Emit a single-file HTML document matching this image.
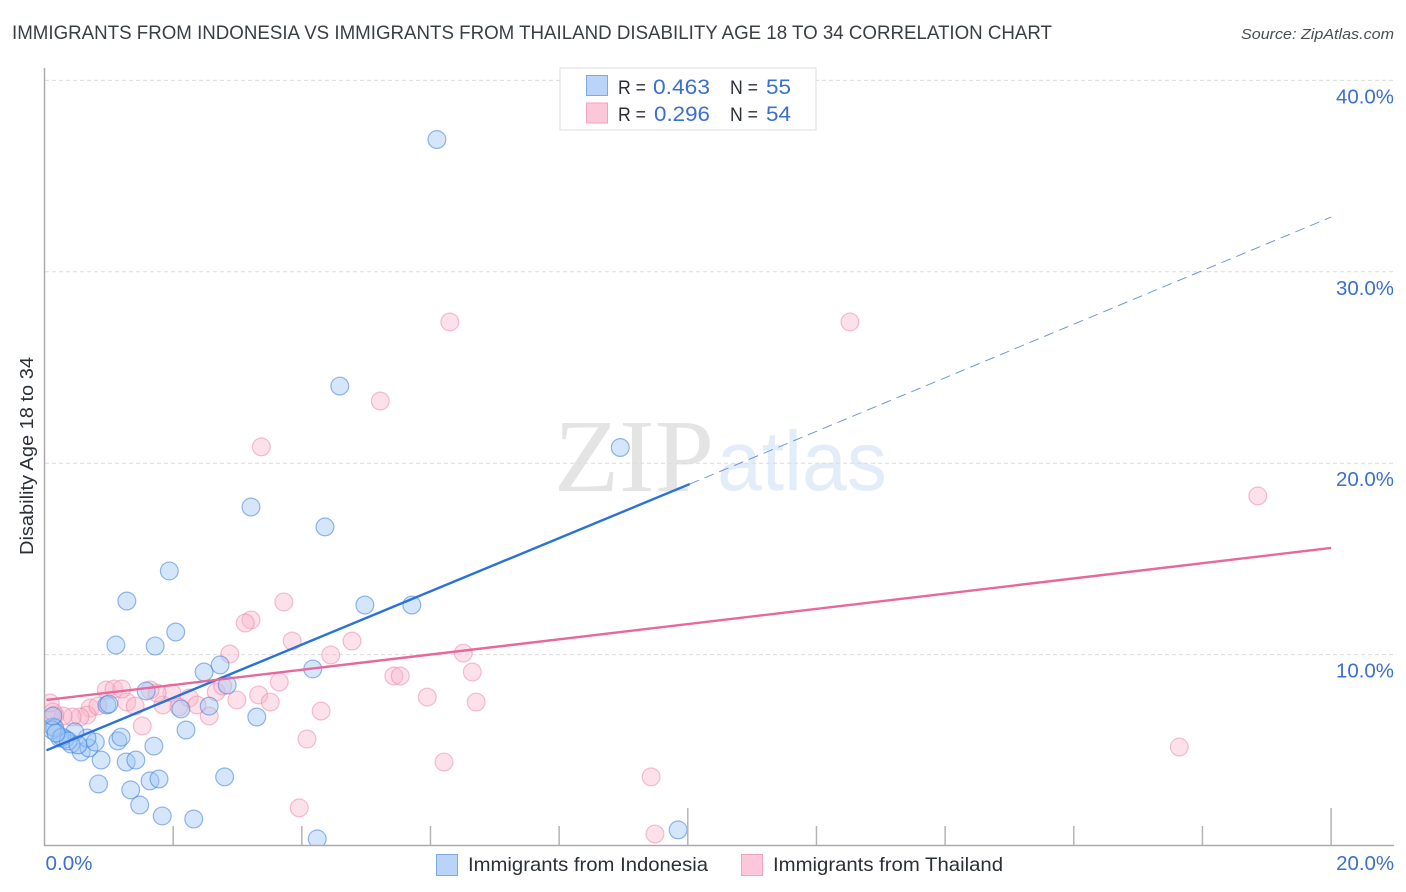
<!DOCTYPE html>
<html lang="en">
<head>
<meta charset="utf-8">
<title>Immigrants from Indonesia vs Immigrants from Thailand Disability Age 18 to 34 Correlation Chart</title>
<style>
html,body{margin:0;padding:0;background:#fff;width:1406px;height:892px;overflow:hidden}
svg{display:block;font-family:"Liberation Sans",sans-serif}
</style>
</head>
<body>
<svg id="chart" xmlns="http://www.w3.org/2000/svg" width="1406" height="892" viewBox="0 0 1406 892">
  <defs>
    <clipPath id="plot-clip"><rect x="45" y="68" width="1350" height="777"/></clipPath>
  </defs>
  <text x="12" y="39" font-size="19.5" fill="#3a3e45" textLength="1040" lengthAdjust="spacingAndGlyphs">IMMIGRANTS FROM INDONESIA VS IMMIGRANTS FROM THAILAND DISABILITY AGE 18 TO 34 CORRELATION CHART</text>
  <text x="1241" y="39" font-size="15" font-style="italic" fill="#4a4e55" textLength="153" lengthAdjust="spacingAndGlyphs">Source: ZipAtlas.com</text>

  <g id="watermark">
    <text x="554" y="491" font-family="'Liberation Serif',serif" font-size="104" fill="#e4e4e4" textLength="160" lengthAdjust="spacingAndGlyphs">ZIP</text>
    <text x="717" y="490" font-size="84" fill="#e3edfa" textLength="170" lengthAdjust="spacingAndGlyphs">atlas</text>
  </g>

  <g id="grid"></g>
  <g id="points-pink" clip-path="url(#plot-clip)"></g>
  <g id="points-blue" clip-path="url(#plot-clip)"></g>
  <g id="trends"></g>
  <g id="axes"></g>
  <g id="tick-labels"></g>

  <text transform="translate(33,456) rotate(-90)" text-anchor="middle" font-size="18.5" fill="#2b2f36" textLength="198" lengthAdjust="spacingAndGlyphs">Disability Age 18 to 34</text>

  <g>
    <rect x="560" y="68" width="256" height="62" fill="#fff" stroke="#dcdcdc" stroke-width="1"/>
    <rect x="586.5" y="75.5" width="21" height="20" fill="#b9d4f8" stroke="#7ea9e4" stroke-width="1"/>
    <rect x="586.5" y="103" width="21" height="20" fill="#fcc8d9" stroke="#f0a3bd" stroke-width="1"/>
    <text x="618" y="94" font-size="19.5" fill="#2b2f36" textLength="28" lengthAdjust="spacingAndGlyphs">R =</text>
    <text x="653" y="94" font-size="21.5" fill="#3a70cf" textLength="57" lengthAdjust="spacingAndGlyphs">0.463</text>
    <text x="730" y="94" font-size="19.5" fill="#2b2f36" textLength="28" lengthAdjust="spacingAndGlyphs">N =</text>
    <text x="766" y="94" font-size="21.5" fill="#3a70cf" textLength="25" lengthAdjust="spacingAndGlyphs">55</text>
    <text x="618" y="121" font-size="19.5" fill="#2b2f36" textLength="28" lengthAdjust="spacingAndGlyphs">R =</text>
    <text x="654" y="121" font-size="21.5" fill="#3a70cf" textLength="56" lengthAdjust="spacingAndGlyphs">0.296</text>
    <text x="730" y="121" font-size="19.5" fill="#2b2f36" textLength="28" lengthAdjust="spacingAndGlyphs">N =</text>
    <text x="766" y="121" font-size="21.5" fill="#3a70cf" textLength="25" lengthAdjust="spacingAndGlyphs">54</text>
  </g>

  <g>
    <rect x="436.5" y="854.5" width="21" height="21" fill="#b9d4f8" stroke="#7ea9e4" stroke-width="1"/>
    <text x="468" y="871" font-size="19.5" fill="#2b2f36" textLength="240" lengthAdjust="spacingAndGlyphs">Immigrants from Indonesia</text>
    <rect x="741.5" y="854.5" width="21" height="21" fill="#fcc8d9" stroke="#f0a3bd" stroke-width="1"/>
    <text x="773" y="871" font-size="19.5" fill="#2b2f36" textLength="230" lengthAdjust="spacingAndGlyphs">Immigrants from Thailand</text>
  </g>
</svg>
<script>
const indonesiaX = [6.10,4.59,8.95,3.21,4.36,1.94,1.28,4.98,5.71,2.04,1.11,1.72,2.48,2.73,4.17,2.84,1.58,0.97,1.00,2.56,2.12,3.30,2.20,1.14,1.19,1.70,0.88,1.27,1.42,0.84,1.34,1.64,1.78,2.80,1.48,1.83,2.32,4.24,9.85,0.57,0.69,0.79,0.66,0.47,0.41,0.32,0.24,0.13,0.16,0.12,0.13,0.27,0.37,0.52,0.18];
const indonesiaY = [36.91,24.03,20.82,17.71,16.67,14.37,12.80,12.59,12.59,11.18,10.50,10.45,9.09,9.46,9.25,8.41,8.10,7.37,7.42,7.31,7.16,6.74,6.06,5.49,5.69,5.22,4.49,4.39,4.49,3.24,2.93,3.40,3.50,3.61,2.14,1.57,1.41,0.37,0.84,4.91,5.12,5.43,5.64,5.96,5.33,5.59,5.64,6.22,6.17,6.06,6.79,5.69,5.49,5.28,5.90];
const thailandX = [6.30,12.52,5.22,3.37,18.86,3.72,3.21,3.12,3.85,4.78,2.88,4.45,6.51,6.65,5.43,5.53,3.65,3.33,3.51,5.95,6.71,2.99,4.30,4.08,6.21,17.64,9.43,3.96,9.49,2.67,2.77,2.56,1.84,1.98,2.25,2.37,2.09,1.75,1.64,1.28,1.41,0.96,1.08,1.20,0.71,0.66,0.83,0.55,0.43,1.52,0.29,0.16,0.09,0.13];
const thailandY = [27.38,27.38,23.25,20.85,18.29,12.75,11.81,11.65,10.71,10.71,10.03,9.98,10.08,9.09,8.88,8.88,8.57,7.89,7.52,7.78,7.52,7.63,7.05,5.59,4.39,5.17,3.61,1.99,0.63,8.05,8.36,6.79,7.37,7.99,7.73,7.37,7.26,7.99,8.15,7.52,7.31,8.15,8.20,8.20,7.21,6.84,7.31,6.74,6.74,6.27,6.79,6.84,7.47,7.00];
const indonesiaTrendX = [0.03,10.03];
const indonesiaTrendY = [5.00,18.91];
const indonesiaForecastX = [10.03,20.00];
const indonesiaForecastY = [18.91,32.86];
const thailandTrendX = [0.03,20.00];
const thailandTrendY = [7.63,15.57];
const xTickValues = [0,2,4,6,8,10,12,14,16,18,20];
const xMajorTicks = [0,10,20];
const xTickLabels = [[0,'0.0%'],[20,'20.0%']];
const yTickValues = [10,20,30,40];
const yTickLabels = ['10.0%','20.0%','30.0%','40.0%'];

const NS = 'http://www.w3.org/2000/svg';
function xScale(v){ return 44.5 + v * 64.33; }
function yScale(v){ return 846 - v * 19.14; }
function make(tag, parent){
  const el = document.createElementNS(NS, tag);
  document.getElementById(parent).appendChild(el);
  return el;
}

yTickValues.forEach(function(v, i){
  const line = make('line', 'grid');
  
  
  line.setAttribute('x1', 45);
  line.setAttribute('x2', 1394);
  line.setAttribute('y1', yScale(v));
  line.setAttribute('y2', yScale(v));
  line.setAttribute('stroke', '#dcdcdc');
  line.setAttribute('stroke-width', '1');
  line.setAttribute('stroke-dasharray', '4 3');
  const label = make('text', 'tick-labels');
  
  
  label.setAttribute('x', 1336);
  label.setAttribute('y', yScale(v) + 23);
  label.setAttribute('font-size', '20');
  label.setAttribute('fill', '#3a70cf');
  label.setAttribute('textLength', '58');
  label.setAttribute('lengthAdjust', 'spacingAndGlyphs');
  label.textContent = yTickLabels[i];
});

xTickValues.forEach(function(v){
  if (v === 0) return;
  const tick = make('line', 'axes');
  
  
  tick.setAttribute('x1', xScale(v));
  tick.setAttribute('x2', xScale(v));
  tick.setAttribute('y1', xMajorTicks.indexOf(v) >= 0 ? 808 : 826);
  tick.setAttribute('y2', 846);
  tick.setAttribute('stroke', '#b4b4b4');
  tick.setAttribute('stroke-width', '1.5');
});

xTickLabels.forEach(function(pair){
  const label = make('text', 'tick-labels');
  
  
  const wide = pair[1].length > 4;
  label.setAttribute('x', wide ? xScale(pair[0]) + 5 : xScale(pair[0]) + 1);
  label.setAttribute('y', 870);
  label.setAttribute('font-size', '20');
  label.setAttribute('fill', '#3a70cf');
  label.setAttribute('textLength', wide ? '58' : '47');
  label.setAttribute('lengthAdjust', 'spacingAndGlyphs');
  label.textContent = pair[1];
});

const axisY = make('line', 'axes');


axisY.setAttribute('x1', 44.5);
axisY.setAttribute('x2', 44.5);
axisY.setAttribute('y1', 68);
axisY.setAttribute('y2', 846);
axisY.setAttribute('stroke', '#ababab');
axisY.setAttribute('stroke-width', '1.5');

const axisX = make('line', 'axes');


axisX.setAttribute('x1', 44);
axisX.setAttribute('x2', 1394);
axisX.setAttribute('y1', 845.5);
axisX.setAttribute('y2', 845.5);
axisX.setAttribute('stroke', '#ababab');
axisX.setAttribute('stroke-width', '1.5');

thailandX.forEach(function(x, i){
  const c = make('circle', 'points-pink');
  
  
  c.setAttribute('cx', xScale(x));
  c.setAttribute('cy', yScale(thailandY[i]));
  c.setAttribute('r', '8.9');
  c.setAttribute('fill', 'rgba(250,180,203,0.4)');
  c.setAttribute('stroke', 'rgba(236,130,165,0.5)');
  c.setAttribute('stroke-width', '1.2');
});

indonesiaX.forEach(function(x, i){
  const c = make('circle', 'points-blue');
  
  
  c.setAttribute('cx', xScale(x));
  c.setAttribute('cy', yScale(indonesiaY[i]));
  c.setAttribute('r', '8.9');
  c.setAttribute('fill', 'rgba(160,198,244,0.44)');
  c.setAttribute('stroke', 'rgba(60,125,220,0.55)');
  c.setAttribute('stroke-width', '1.2');
});

const forecast = make('line', 'trends');


forecast.setAttribute('x1', xScale(indonesiaForecastX[0]));
forecast.setAttribute('y1', yScale(indonesiaForecastY[0]));
forecast.setAttribute('x2', xScale(indonesiaForecastX[1]));
forecast.setAttribute('y2', yScale(indonesiaForecastY[1]));
forecast.setAttribute('stroke', '#6f97d6');
forecast.setAttribute('stroke-width', '1');
forecast.setAttribute('stroke-dasharray', '10 6');

const trendBlue = make('line', 'trends');


trendBlue.setAttribute('x1', xScale(indonesiaTrendX[0]));
trendBlue.setAttribute('y1', yScale(indonesiaTrendY[0]));
trendBlue.setAttribute('x2', xScale(indonesiaTrendX[1]));
trendBlue.setAttribute('y2', yScale(indonesiaTrendY[1]));
trendBlue.setAttribute('stroke', '#2a72d8');
trendBlue.setAttribute('stroke-width', '2.4');

const trendPink = make('line', 'trends');


trendPink.setAttribute('x1', xScale(thailandTrendX[0]));
trendPink.setAttribute('y1', yScale(thailandTrendY[0]));
trendPink.setAttribute('x2', xScale(thailandTrendX[1]));
trendPink.setAttribute('y2', yScale(thailandTrendY[1]));
trendPink.setAttribute('stroke', '#e8689b');
trendPink.setAttribute('stroke-width', '2.4');
</script>
</body>
</html>
